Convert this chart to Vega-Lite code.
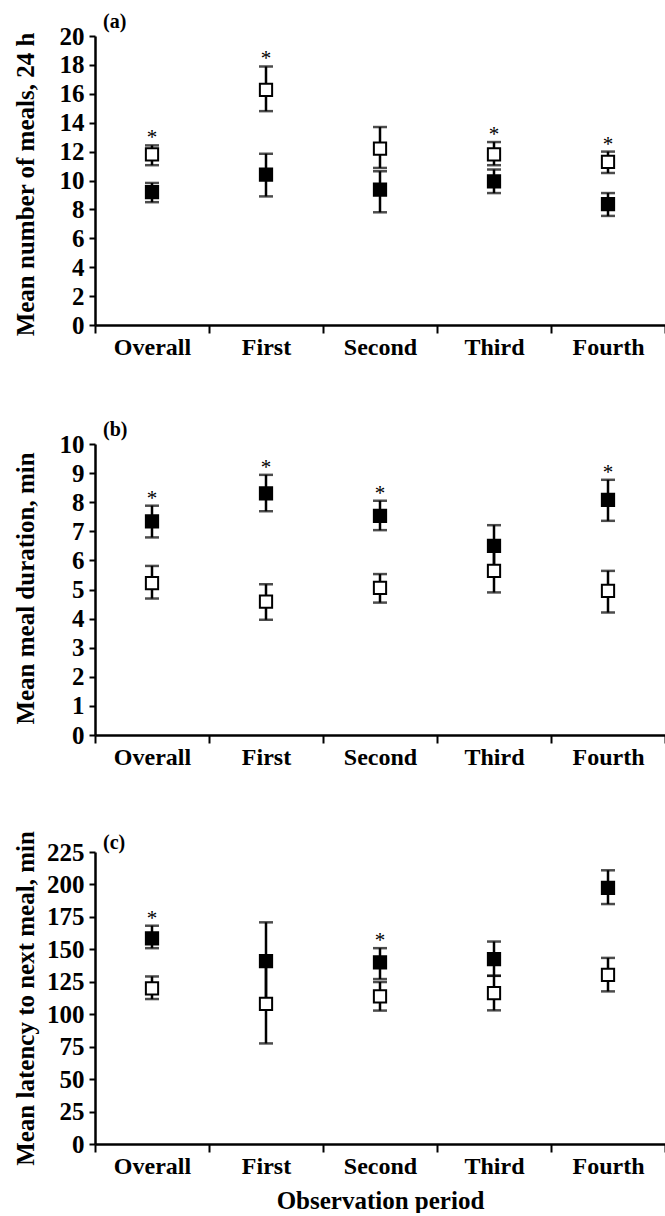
{
  "$schema": "https://vega.github.io/schema/vega-lite/v6.json",
  "background": "white",
  "padding": {"left": 12, "top": 12, "right": 0, "bottom": 0},
  "spacing": 61,
  "config": {
    "view": {"stroke": null},
    "font": "Liberation Serif",
    "axis": {
      "grid": false,
      "domainColor": "black",
      "domainWidth": 2.5,
      "tickColor": "black",
      "tickWidth": 2,
      "tickSize": 6,
      "labelOverlap": false,
      "labelFont": "Liberation Serif",
      "labelFontWeight": "bold",
      "labelColor": "black",
      "labelFontSize": 25,
      "labelPadding": 5,
      "titleFont": "Liberation Serif",
      "titleFontWeight": "bold",
      "titleFontSize": 25,
      "titleColor": "black"
    },
    "title": {"font": "Liberation Serif", "fontWeight": "bold", "fontSize": 20, "anchor": "start", "frame": "group", "color": "black", "baseline": "alphabetic"}
  },
  "datasets": {
    "d": [
      {"panel": "a", "period": "Overall", "group": "filled", "mean": 9.2, "lo": 8.5, "hi": 9.83, "sig": false},
      {"panel": "a", "period": "Overall", "group": "open", "mean": 11.8, "lo": 11.06, "hi": 12.43, "sig": true},
      {"panel": "a", "period": "First", "group": "filled", "mean": 10.4, "lo": 8.9, "hi": 11.85, "sig": false},
      {"panel": "a", "period": "First", "group": "open", "mean": 16.28, "lo": 14.8, "hi": 17.89, "sig": true},
      {"panel": "a", "period": "Second", "group": "filled", "mean": 9.36, "lo": 7.8, "hi": 10.64, "sig": false},
      {"panel": "a", "period": "Second", "group": "open", "mean": 12.2, "lo": 10.87, "hi": 13.7, "sig": false},
      {"panel": "a", "period": "Third", "group": "filled", "mean": 9.94, "lo": 9.13, "hi": 10.76, "sig": false},
      {"panel": "a", "period": "Third", "group": "open", "mean": 11.8, "lo": 11.06, "hi": 12.66, "sig": true},
      {"panel": "a", "period": "Fourth", "group": "filled", "mean": 8.36, "lo": 7.55, "hi": 9.13, "sig": false},
      {"panel": "a", "period": "Fourth", "group": "open", "mean": 11.29, "lo": 10.52, "hi": 12.0, "sig": true},

      {"panel": "b", "period": "Overall", "group": "filled", "mean": 7.34, "lo": 6.79, "hi": 7.88, "sig": true},
      {"panel": "b", "period": "Overall", "group": "open", "mean": 5.22, "lo": 4.69, "hi": 5.81, "sig": false},
      {"panel": "b", "period": "First", "group": "filled", "mean": 8.3, "lo": 7.69, "hi": 8.94, "sig": true},
      {"panel": "b", "period": "First", "group": "open", "mean": 4.58, "lo": 3.96, "hi": 5.18, "sig": false},
      {"panel": "b", "period": "Second", "group": "filled", "mean": 7.53, "lo": 7.04, "hi": 8.05, "sig": true},
      {"panel": "b", "period": "Second", "group": "open", "mean": 5.06, "lo": 4.55, "hi": 5.53, "sig": false},
      {"panel": "b", "period": "Third", "group": "filled", "mean": 6.5, "lo": 5.79, "hi": 7.21, "sig": false},
      {"panel": "b", "period": "Third", "group": "open", "mean": 5.64, "lo": 4.9, "hi": 6.38, "sig": false},
      {"panel": "b", "period": "Fourth", "group": "filled", "mean": 8.08, "lo": 7.36, "hi": 8.77, "sig": true},
      {"panel": "b", "period": "Fourth", "group": "open", "mean": 4.95, "lo": 4.21, "hi": 5.64, "sig": false},

      {"panel": "c", "period": "Overall", "group": "filled", "mean": 158.5, "lo": 150.9, "hi": 168.2, "sig": true},
      {"panel": "c", "period": "Overall", "group": "open", "mean": 119.9, "lo": 111.7, "hi": 129.1, "sig": false},
      {"panel": "c", "period": "First", "group": "filled", "mean": 140.9, "lo": 111.0, "hi": 170.8, "sig": false},
      {"panel": "c", "period": "First", "group": "open", "mean": 107.9, "lo": 77.5, "hi": 138.3, "sig": false},
      {"panel": "c", "period": "Second", "group": "filled", "mean": 139.9, "lo": 127.1, "hi": 150.9, "sig": true},
      {"panel": "c", "period": "Second", "group": "open", "mean": 113.8, "lo": 102.8, "hi": 124.8, "sig": false},
      {"panel": "c", "period": "Third", "group": "filled", "mean": 142.4, "lo": 129.6, "hi": 156.0, "sig": false},
      {"panel": "c", "period": "Third", "group": "open", "mean": 116.3, "lo": 103.0, "hi": 129.6, "sig": false},
      {"panel": "c", "period": "Fourth", "group": "filled", "mean": 197.4, "lo": 184.9, "hi": 210.9, "sig": false},
      {"panel": "c", "period": "Fourth", "group": "open", "mean": 130.4, "lo": 117.6, "hi": 143.4, "sig": false}
    ]
  },
  "vconcat": [
    {
      "width": 570,
      "height": 289,
      "title": {"text": "(a)", "dx": 8, "offset": -8},
      "data": {"name": "d"},
      "transform": [{"filter": "datum.panel === 'a'"}],
      "encoding": {
        "x": {"field": "period", "type": "nominal", "sort": ["Overall", "First", "Second", "Third", "Fourth"],
              "scale": {"paddingInner": 0, "paddingOuter": 0},
              "axis": {"title": null, "labelAngle": 0, "tickBand": "extent", "tickSize": 8, "labelPadding": 2, "labelFontSize": 24}}
      },
      "layer": [
        {"mark": {"type": "rule", "strokeWidth": 2.5, "color": "black"},
         "encoding": {"y": {"field": "lo", "type": "quantitative", "scale": {"domain": [0, 20], "nice": false, "zero": true},
                            "axis": {"title": "Mean number of meals, 24 h", "values": [0, 2, 4, 6, 8, 10, 12, 14, 16, 18, 20], "tickCount": 11, "titleX": -62, "titleY": 148, "titleAngle": -90, "titleAlign": "center", "titleBaseline": "alphabetic"}},
                      "y2": {"field": "hi"}}},
        {"mark": {"type": "tick", "thickness": 2.5, "size": 14, "color": "black"},
         "encoding": {"y": {"field": "lo", "type": "quantitative",
                            "axis": {"title": "Mean number of meals, 24 h", "values": [0, 2, 4, 6, 8, 10, 12, 14, 16, 18, 20], "tickCount": 11, "titleX": -62, "titleY": 148, "titleAngle": -90, "titleAlign": "center", "titleBaseline": "alphabetic"}}}},
        {"mark": {"type": "tick", "thickness": 2.5, "size": 14, "color": "black"},
         "encoding": {"y": {"field": "hi", "type": "quantitative",
                            "axis": {"title": "Mean number of meals, 24 h", "values": [0, 2, 4, 6, 8, 10, 12, 14, 16, 18, 20], "tickCount": 11, "titleX": -62, "titleY": 148, "titleAngle": -90, "titleAlign": "center", "titleBaseline": "alphabetic"}}}},
        {"mark": {"type": "point", "shape": "square", "size": 150, "strokeWidth": 2, "stroke": "black", "filled": true, "opacity": 1},
         "encoding": {"y": {"field": "mean", "type": "quantitative",
                            "axis": {"title": "Mean number of meals, 24 h", "values": [0, 2, 4, 6, 8, 10, 12, 14, 16, 18, 20], "tickCount": 11, "titleX": -62, "titleY": 148, "titleAngle": -90, "titleAlign": "center", "titleBaseline": "alphabetic"}},
                      "fill": {"field": "group", "type": "nominal", "scale": {"domain": ["filled", "open"], "range": ["black", "white"]}, "legend": null}}},
        {"transform": [{"filter": "datum.sig"}],
         "mark": {"type": "text", "text": "*", "baseline": "alphabetic", "dy": -1, "fontSize": 21, "font": "Liberation Serif", "color": "black"},
         "encoding": {"y": {"field": "hi", "type": "quantitative",
                            "axis": {"title": "Mean number of meals, 24 h", "values": [0, 2, 4, 6, 8, 10, 12, 14, 16, 18, 20], "tickCount": 11, "titleX": -62, "titleY": 148, "titleAngle": -90, "titleAlign": "center", "titleBaseline": "alphabetic"}}}}
      ]
    },
    {
      "width": 570,
      "height": 291,
      "title": {"text": "(b)", "dx": 8, "offset": -8},
      "data": {"name": "d"},
      "transform": [{"filter": "datum.panel === 'b'"}],
      "encoding": {
        "x": {"field": "period", "type": "nominal", "sort": ["Overall", "First", "Second", "Third", "Fourth"],
              "scale": {"paddingInner": 0, "paddingOuter": 0},
              "axis": {"title": null, "labelAngle": 0, "tickBand": "extent", "tickSize": 8, "labelPadding": 2, "labelFontSize": 24}}
      },
      "layer": [
        {"mark": {"type": "rule", "strokeWidth": 2.5, "color": "black"},
         "encoding": {"y": {"field": "lo", "type": "quantitative", "scale": {"domain": [0, 10], "nice": false, "zero": true},
                            "axis": {"title": "Mean meal duration, min", "values": [0, 1, 2, 3, 4, 5, 6, 7, 8, 9, 10], "tickCount": 11, "titleX": -62, "titleY": 144, "titleAngle": -90, "titleAlign": "center", "titleBaseline": "alphabetic"}},
                      "y2": {"field": "hi"}}},
        {"mark": {"type": "tick", "thickness": 2.5, "size": 14, "color": "black"},
         "encoding": {"y": {"field": "lo", "type": "quantitative",
                            "axis": {"title": "Mean meal duration, min", "values": [0, 1, 2, 3, 4, 5, 6, 7, 8, 9, 10], "tickCount": 11, "titleX": -62, "titleY": 144, "titleAngle": -90, "titleAlign": "center", "titleBaseline": "alphabetic"}}}},
        {"mark": {"type": "tick", "thickness": 2.5, "size": 14, "color": "black"},
         "encoding": {"y": {"field": "hi", "type": "quantitative",
                            "axis": {"title": "Mean meal duration, min", "values": [0, 1, 2, 3, 4, 5, 6, 7, 8, 9, 10], "tickCount": 11, "titleX": -62, "titleY": 144, "titleAngle": -90, "titleAlign": "center", "titleBaseline": "alphabetic"}}}},
        {"mark": {"type": "point", "shape": "square", "size": 150, "strokeWidth": 2, "stroke": "black", "filled": true, "opacity": 1},
         "encoding": {"y": {"field": "mean", "type": "quantitative",
                            "axis": {"title": "Mean meal duration, min", "values": [0, 1, 2, 3, 4, 5, 6, 7, 8, 9, 10], "tickCount": 11, "titleX": -62, "titleY": 144, "titleAngle": -90, "titleAlign": "center", "titleBaseline": "alphabetic"}},
                      "fill": {"field": "group", "type": "nominal", "scale": {"domain": ["filled", "open"], "range": ["black", "white"]}, "legend": null}}},
        {"transform": [{"filter": "datum.sig"}],
         "mark": {"type": "text", "text": "*", "baseline": "alphabetic", "dy": -1, "fontSize": 21, "font": "Liberation Serif", "color": "black"},
         "encoding": {"y": {"field": "hi", "type": "quantitative",
                            "axis": {"title": "Mean meal duration, min", "values": [0, 1, 2, 3, 4, 5, 6, 7, 8, 9, 10], "tickCount": 11, "titleX": -62, "titleY": 144, "titleAngle": -90, "titleAlign": "center", "titleBaseline": "alphabetic"}}}}
      ]
    },
    {
      "width": 570,
      "height": 292,
      "title": {"text": "(c)", "dx": 8, "offset": -22},
      "data": {"name": "d"},
      "transform": [{"filter": "datum.panel === 'c'"}],
      "encoding": {
        "x": {"field": "period", "type": "nominal", "sort": ["Overall", "First", "Second", "Third", "Fourth"],
              "scale": {"paddingInner": 0, "paddingOuter": 0},
              "axis": {"title": "Observation period", "titlePadding": 10, "labelAngle": 0, "tickBand": "extent", "tickSize": 8, "labelPadding": 2, "labelFontSize": 24}}
      },
      "layer": [
        {"mark": {"type": "rule", "strokeWidth": 2.5, "color": "black"},
         "encoding": {"y": {"field": "lo", "type": "quantitative", "scale": {"domain": [0, 225], "nice": false, "zero": true},
                            "axis": {"title": "Mean latency to next meal, min", "values": [0, 25, 50, 75, 100, 125, 150, 175, 200, 225], "tickCount": 10, "titleX": -62, "titleY": 146, "titleAngle": -90, "titleAlign": "center", "titleBaseline": "alphabetic"}},
                      "y2": {"field": "hi"}}},
        {"mark": {"type": "tick", "thickness": 2.5, "size": 14, "color": "black"},
         "encoding": {"y": {"field": "lo", "type": "quantitative",
                            "axis": {"title": "Mean latency to next meal, min", "values": [0, 25, 50, 75, 100, 125, 150, 175, 200, 225], "tickCount": 10, "titleX": -62, "titleY": 146, "titleAngle": -90, "titleAlign": "center", "titleBaseline": "alphabetic"}}}},
        {"mark": {"type": "tick", "thickness": 2.5, "size": 14, "color": "black"},
         "encoding": {"y": {"field": "hi", "type": "quantitative",
                            "axis": {"title": "Mean latency to next meal, min", "values": [0, 25, 50, 75, 100, 125, 150, 175, 200, 225], "tickCount": 10, "titleX": -62, "titleY": 146, "titleAngle": -90, "titleAlign": "center", "titleBaseline": "alphabetic"}}}},
        {"mark": {"type": "point", "shape": "square", "size": 150, "strokeWidth": 2, "stroke": "black", "filled": true, "opacity": 1},
         "encoding": {"y": {"field": "mean", "type": "quantitative",
                            "axis": {"title": "Mean latency to next meal, min", "values": [0, 25, 50, 75, 100, 125, 150, 175, 200, 225], "tickCount": 10, "titleX": -62, "titleY": 146, "titleAngle": -90, "titleAlign": "center", "titleBaseline": "alphabetic"}},
                      "fill": {"field": "group", "type": "nominal", "scale": {"domain": ["filled", "open"], "range": ["black", "white"]}, "legend": null}}},
        {"transform": [{"filter": "datum.sig"}],
         "mark": {"type": "text", "text": "*", "baseline": "alphabetic", "dy": -1, "fontSize": 21, "font": "Liberation Serif", "color": "black"},
         "encoding": {"y": {"field": "hi", "type": "quantitative",
                            "axis": {"title": "Mean latency to next meal, min", "values": [0, 25, 50, 75, 100, 125, 150, 175, 200, 225], "tickCount": 10, "titleX": -62, "titleY": 146, "titleAngle": -90, "titleAlign": "center", "titleBaseline": "alphabetic"}}}}
      ]
    }
  ]
}
